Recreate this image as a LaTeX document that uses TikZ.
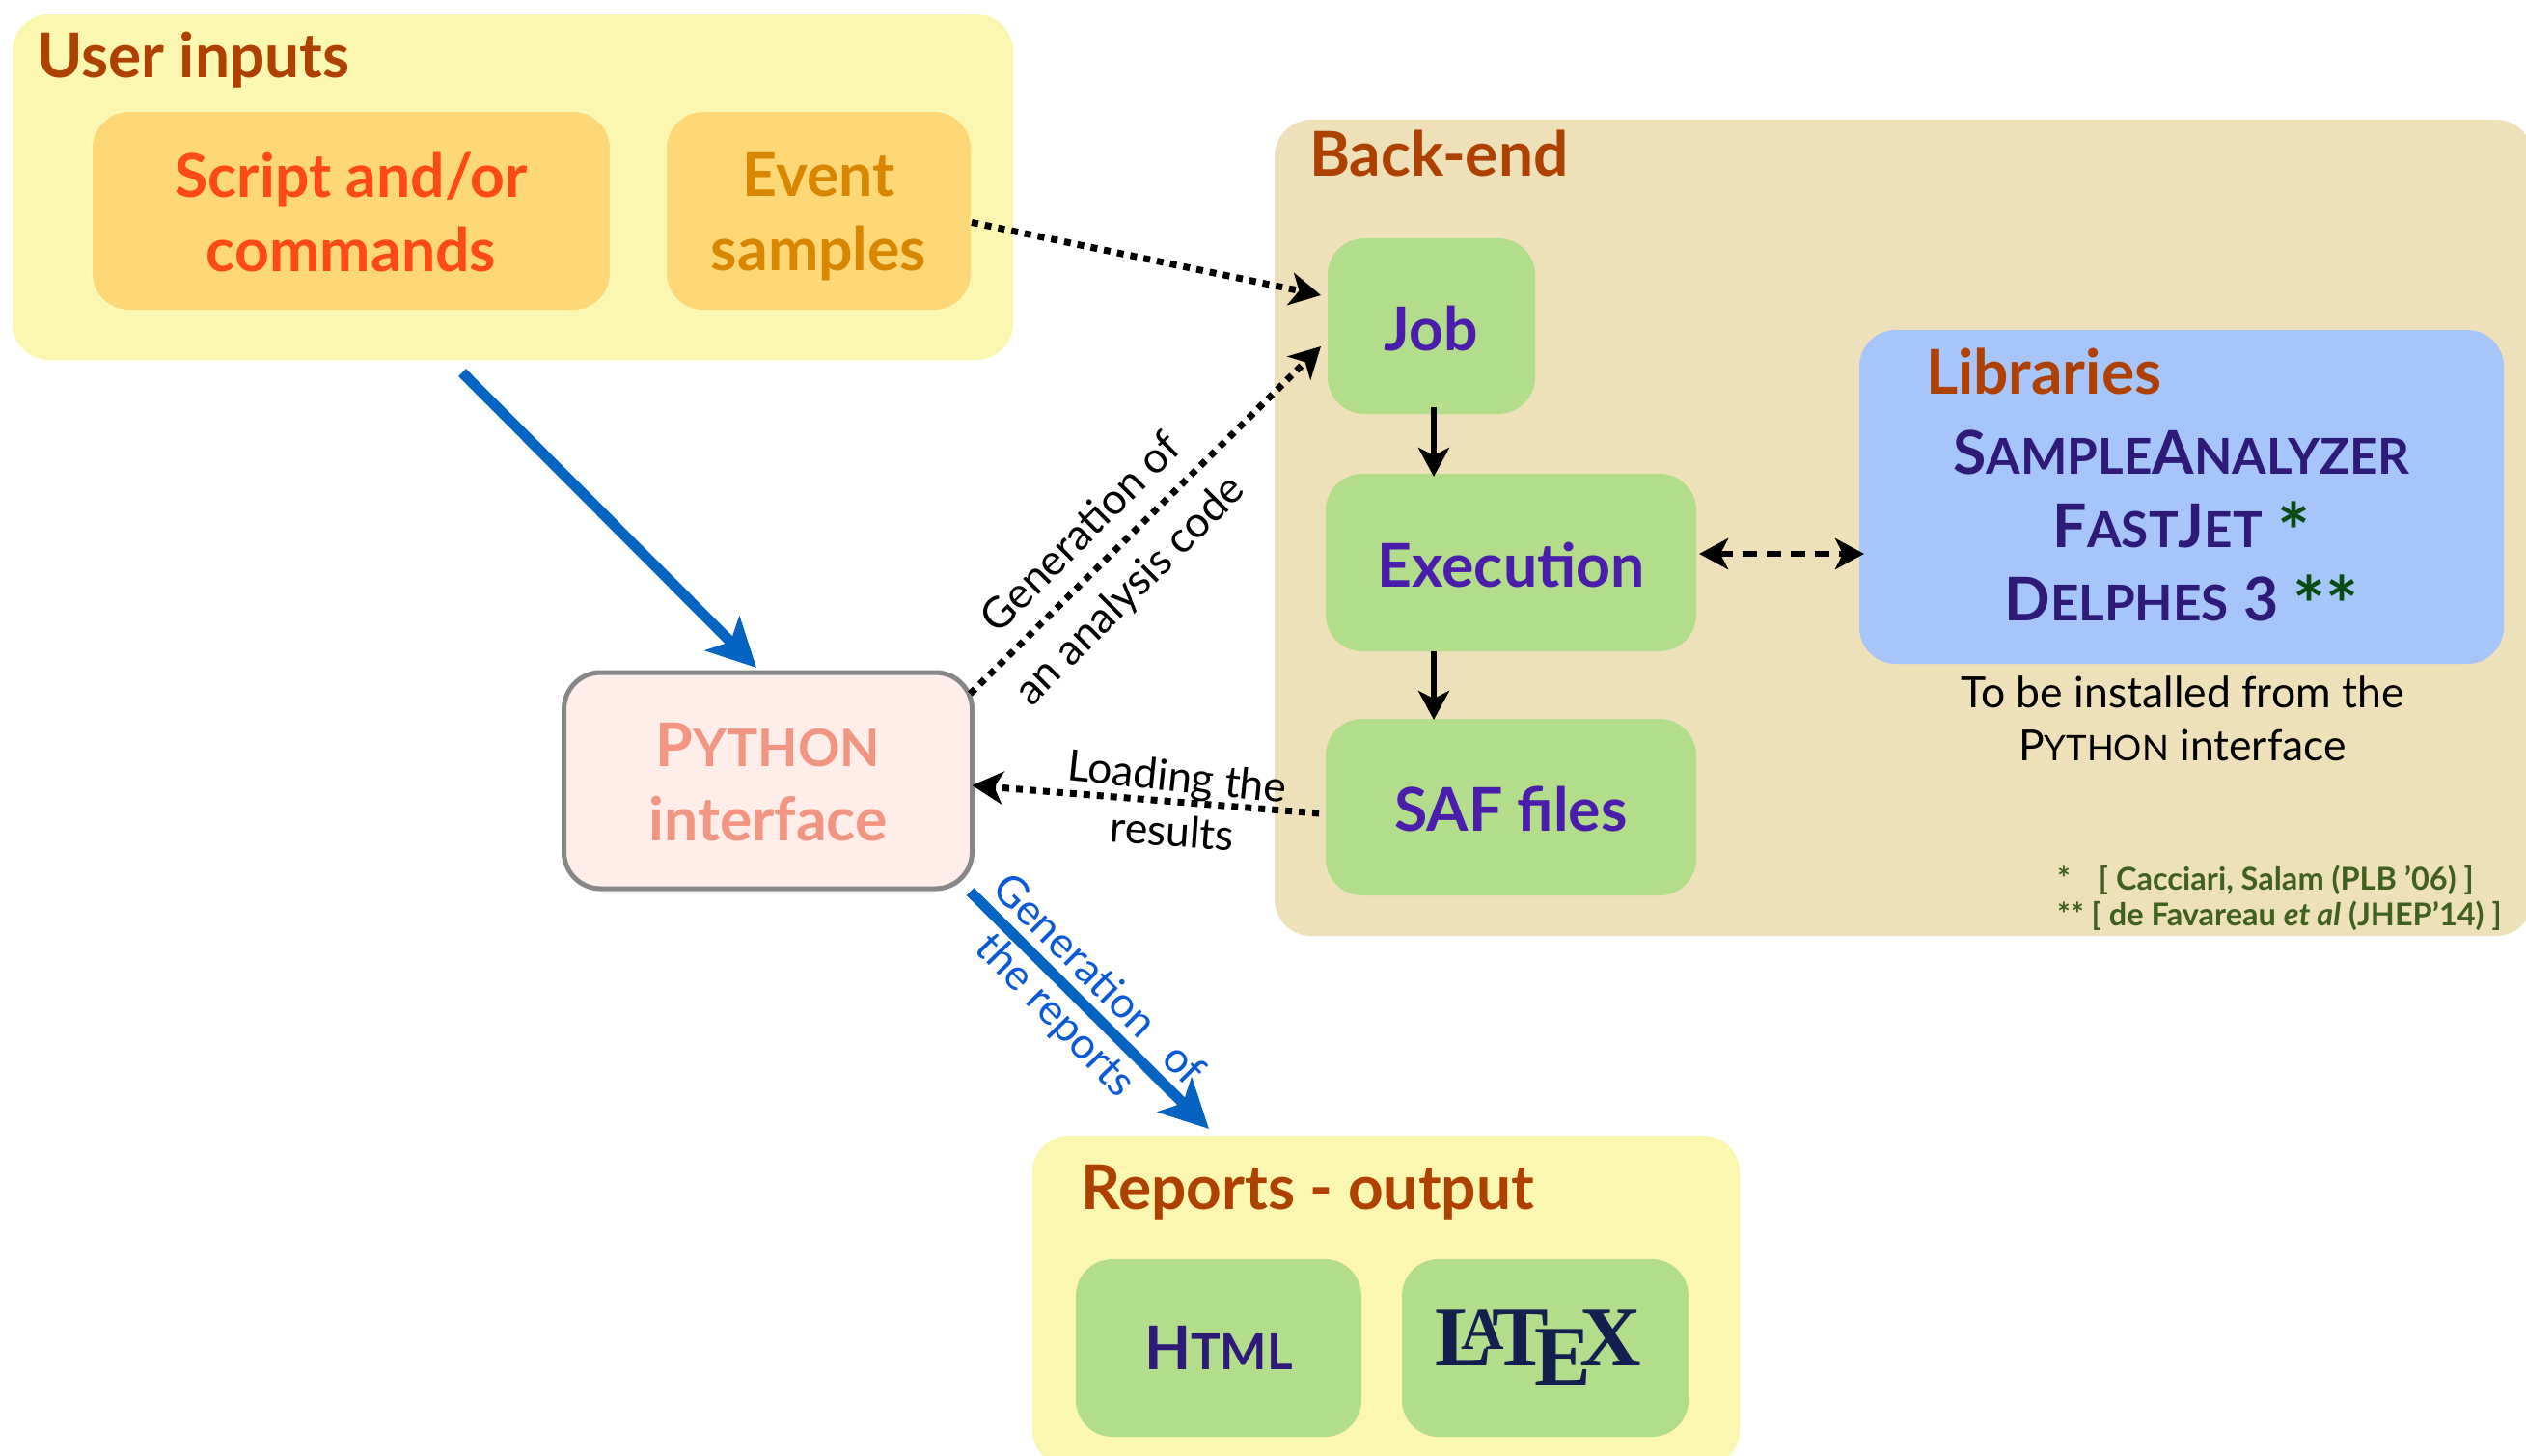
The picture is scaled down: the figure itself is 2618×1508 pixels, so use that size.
\documentclass[tikz,border=0pt]{standalone}
\usepackage{fontspec}
\usepackage{graphicx}
\usetikzlibrary{arrows.meta,calc}
\setmainfont{Lato}
\newfontfamily\serf{Liberation Serif}
\definecolor{cyel}{HTML}{FCF7B0}
\definecolor{corg}{HTML}{FED877}
\definecolor{cscr}{HTML}{FF4A14}
\definecolor{cevt}{HTML}{D98600}
\definecolor{ctit}{HTML}{AE4000}
\definecolor{cbak}{HTML}{EEE0B9}
\definecolor{cgrn}{HTML}{B2DE8C}
\definecolor{cpur}{HTML}{4A1EAB}
\definecolor{cdpu}{HTML}{2E1A78}
\definecolor{clib}{HTML}{A6C5FB}
\definecolor{cpyf}{HTML}{FEEDE9}
\definecolor{cpyt}{HTML}{F29682}
\definecolor{cblu}{HTML}{0563C1}
\definecolor{clbl}{HTML}{0A5AD5}
\definecolor{cast}{HTML}{0A4B12}
\definecolor{cref}{HTML}{3F6020}
\definecolor{cnav}{HTML}{13204F}
\newcommand\sm[1]{\scalebox{.82}{#1}}
\newcommand\bigtxt{\bfseries\fontsize{62.5}{77}\selectfont}
\newcommand\tittxt{\bfseries\fontsize{64}{77}\selectfont}
\newcommand\lbltxt{\fontsize{44.5}{55}\selectfont}
\newcommand\tl{\rule{0pt}{51pt}}
\newcommand\astk[1]{{\color{cast}\fontsize{80}{77}\selectfont\raisebox{-13pt}{#1}}}
\tikzset{
  box/.style={rectangle,rounded corners=38pt,inner sep=0pt,outer sep=0pt,align=center},
  panel/.style={box,fill=cyel},
  orange/.style={box,fill=corg,font=\bigtxt},
  green/.style={box,fill=cgrn,font=\bigtxt,text=cpur},
  title/.style={inner sep=0pt,outer sep=0pt,anchor=base west,text=ctit,font=\tittxt},
  libline/.style={inner sep=0pt,anchor=base,text=cdpu,font=\bigtxt},
  lbl/.style={inner sep=0pt,align=center,font=\lbltxt},
  reftxt/.style={inner sep=0pt,anchor=base west,text=cref,font=\bfseries\fontsize{32.5}{38}\selectfont},
  bluearrow/.style={draw=cblu,line width=11pt,-{Stealth[length=50pt,width=50pt,inset=12pt]}},
  dotarrow/.style={draw=black,line width=7pt,dash pattern=on 7pt off 7pt,-{Stealth[length=32pt,width=34pt,inset=9pt]}},
  solidarrow/.style={draw=black,line width=6.5pt,-{Stealth[length=30pt,width=32pt,inset=8pt]}},
  dasharrow/.style={draw=black,line width=6.5pt,dash pattern=on 15pt off 10pt,{Stealth[length=30pt,width=32pt,inset=8pt]}-{Stealth[length=30pt,width=32pt,inset=8pt]}},
}
\begin{document}
\begin{tikzpicture}[x=1pt,y=-1pt]
\useasboundingbox (0,0) rectangle (2618,1508);
\clip (0,0) rectangle (2618,1508);
\node[panel,minimum width=1037pt,minimum height=358pt] (user) at (531.5,194) {};
\node[title] (usert) at (38,80) {User inputs};
\node[orange,text=cscr,minimum width=536pt,minimum height=205pt] (script) at (364,218.5) {\rule{0pt}{49pt}Script and/or\\commands};
\node[orange,text=cevt,minimum width=315pt,minimum height=205pt] (event) at (848.5,218.5) {\rule{0pt}{57pt}Event\\samples};

\node[box,fill=cbak,minimum width=1304pt,minimum height=846pt] (backend) at (1973,547) {};
\node[title] (backt) at (1357,182) {Back-end};
\node[green,minimum width=215pt,minimum height=182pt] (job) at (1483.5,338) {\tl Job};
\node[green,minimum width=384pt,minimum height=184pt] (exec) at (1566,583) {\tl Execution};
\node[green,minimum width=384pt,minimum height=183pt] (saf) at (1566,836.5) {\tl SAF files};

\node[box,fill=clib,minimum width=668pt,minimum height=346pt] (lib) at (2261,515) {};
\node[title] (libt) at (1996,408) {Libraries};
\node[libline] (sa) at (2261,491) {S\sm{AMPLE}A\sm{NALYZER}};
\node[libline] (fj) at (2261,567) {F\sm{AST}J\sm{ET} \astk{*}};
\node[libline] (de) at (2261,643) {D\sm{ELPHES} 3 \astk{**}};
\node[lbl] (inst) at (2262,745) {To be installed from the\\P\sm{YTHON} interface};
\node[reftxt] (ref1) at (2132,922) {*\hspace{21pt} [ Cacciari, Salam (PLB ’06) ]};
\node[reftxt] (ref2) at (2132,959) {** [ de Favareau {\itshape et al} (JHEP’14) ]};

\node[box,fill=cpyf,draw=black!47,line width=5pt,font=\bigtxt,text=cpyt,minimum width=423pt,minimum height=224pt] (python) at (796,809) {\rule{0pt}{49pt}P\scalebox{.86}{YTHON}\\interface};

\node[panel,minimum width=733pt,minimum height=343pt] (reports) at (1436.5,1348.5) {};
\node[title] (rept) at (1120,1253) {Reports - output};
\node[green,text=cdpu,minimum width=296pt,minimum height=184pt] (html) at (1263,1397) {H\sm{TML}};
\node[green,minimum width=297pt,minimum height=184pt,font=\serf\bfseries\fontsize{88}{90}\selectfont,text=cnav] (latex) at (1601.5,1397) {\raisebox{-5pt}{\LaTeX}\hspace{14pt}};

\draw[bluearrow] ($(user.south west)+(466,13)$) -- ($(python.north)+(-12,-5)$);
\draw[bluearrow] ($(python.south east)+(-2,3)$) -- ($(reports.north west)+(183,-7)$);
\draw[dotarrow] ($(event.east)+(1,12)$) -- ($(job.west)+(-7,-32)$);
\draw[dotarrow] ($(python.north east)+(-2,22)$) -- ($(job.west)+(-7,21)$);
\draw[dotarrow] ($(saf.west)+(-7,6.5)$) -- ($(python.east)+(0,5)$);
\draw[solidarrow] ($(job.south)+(2.5,-7)$) -- ($(exec.north)+(-80,3)$);
\draw[solidarrow] ($(exec.south)+(-80,0)$) -- ($(saf.north)+(-80,1)$);
\draw[dasharrow] ($(exec.east)+(3,-9)$) -- ($(lib.west)+(5,59)$);

\node[lbl,rotate=45] (g1) at (1119,551) {Generation of};
\node[lbl,rotate=45] (g2) at (1172,613) {an analysis code};
\node[lbl,rotate=-6] (l1) at (1220,808) {Loading the};
\node[lbl,rotate=-4] (l2) at (1215,861) {results};
\node[lbl,rotate=-45,text=clbl] (r1) at (1140,1014) {Generation\hspace{18pt} of};
\node[lbl,rotate=-46,text=clbl] (r2) at (1093,1053) {the reports};
\end{tikzpicture}
\end{document}
